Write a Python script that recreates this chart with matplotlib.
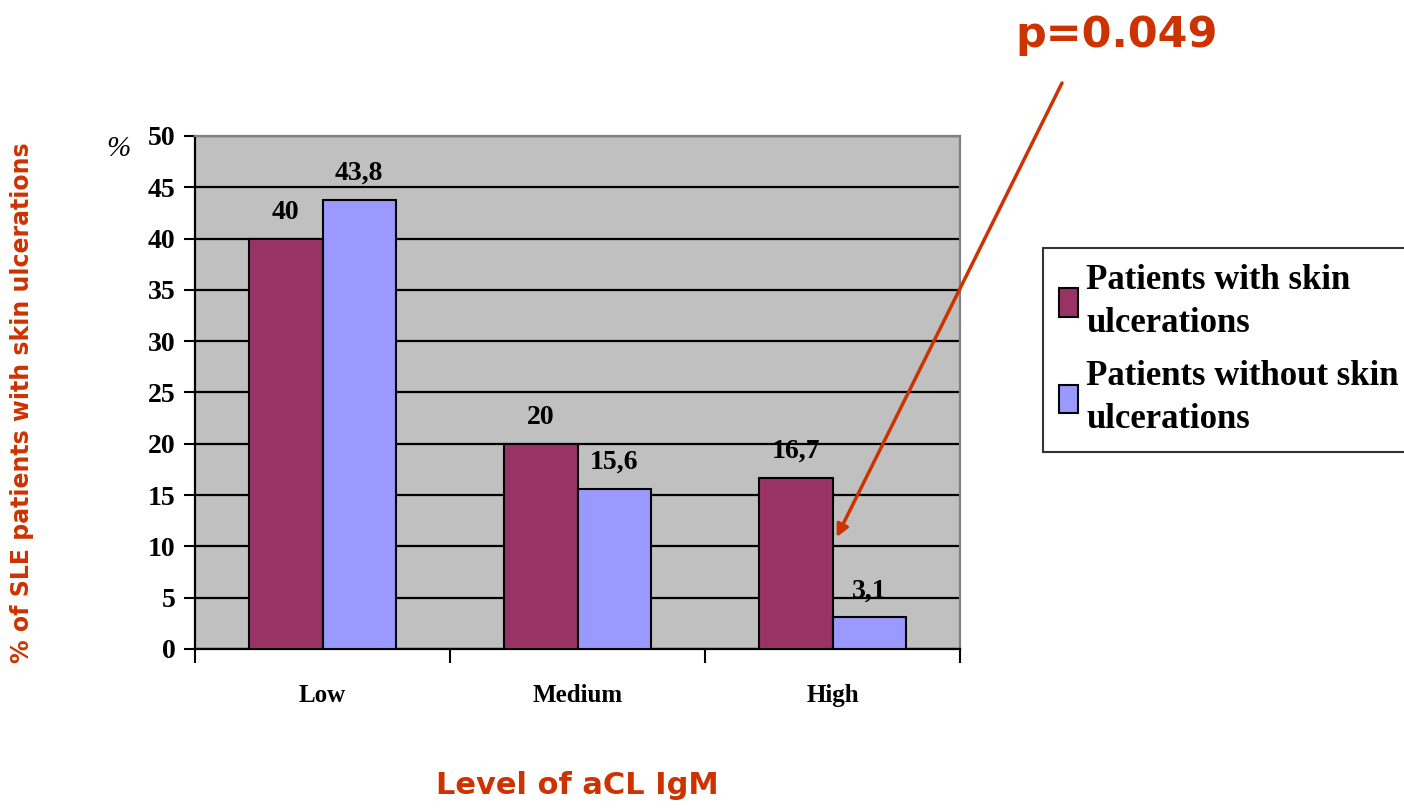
import numpy as np
import matplotlib.pyplot as plt

# data
levels = ['Low', 'Medium', 'High']
with_ulcer = [40, 20, 16.7]
without_ulcer = [43.8, 15.6, 3.1]
with_labels = ['40', '20', '16,7']
without_labels = ['43,8', '15,6', '3,1']
series_names = ['Patients with skin\nulcerations', 'Patients without skin\nulcerations']
y_ticks = [0, 5, 10, 15, 20, 25, 30, 35, 40, 45, 50]

maroon = '#993366'
periwinkle = '#9999FF'
orange = '#CC3300'
serif = 'Liberation Serif'

fig = plt.figure(figsize=(14.04, 8.09), dpi=100)
ax = fig.add_axes([0.1389, 0.1978, 0.5449, 0.6341])
ax.set_facecolor('#C0C0C0')

x = np.arange(len(levels))
w = 0.288
b1 = ax.bar(x - w / 2, with_ulcer, w, color=maroon, edgecolor='black', linewidth=1.5,
            label=series_names[0], zorder=3)
b2 = ax.bar(x + w / 2, without_ulcer, w, color=periwinkle, edgecolor='black', linewidth=1.5,
            label=series_names[1], zorder=3)

for bars, labels in [(b1, with_labels), (b2, without_labels)]:
    for rect, lab in zip(bars, labels):
        ax.annotate(lab, (rect.get_x() + rect.get_width() / 2, rect.get_height()),
                    xytext=(0, 10), textcoords='offset points', ha='center', va='bottom',
                    fontsize=20, fontweight='bold', family=serif)

ax.set_xlim(-0.5, 2.5)
ax.set_ylim(0, 50)
ax.set_yticks(y_ticks)
ax.yaxis.grid(True, color='black', linewidth=1.6, zorder=1)
ax.set_axisbelow(True)
ax.tick_params(axis='y', direction='out', length=8, width=1.5, labelsize=20, pad=6)
for t in ax.get_yticklabels():
    t.set_fontweight('bold')
    t.set_family(serif)

ax.set_xticks(x)
ax.set_xticklabels(levels, fontsize=18, fontweight='bold', family=serif)
ax.tick_params(axis='x', which='major', length=0, pad=25)
ax.set_xticks([-0.5, 0.5, 1.5, 2.5], minor=True)
ax.tick_params(axis='x', which='minor', direction='out', length=10, width=1.5)

for s in ['left', 'bottom']:
    ax.spines[s].set_color('black')
    ax.spines[s].set_linewidth(1.6)
for s in ['top', 'right']:
    ax.spines[s].set_color('#808080')
    ax.spines[s].set_linewidth(1.6)

ax.text(-0.10, 0.975, '%', transform=ax.transAxes, ha='center', va='center',
        fontsize=21, style='italic', family=serif)

fig.text(22 / 1404, 1 - 403 / 809, '% of SLE patients with skin ulcerations', color=orange,
         fontsize=17, fontweight='bold', rotation=90, ha='center', va='center')
fig.text(577 / 1404, 1 - 786 / 809, 'Level of aCL IgM', color=orange, fontsize=22,
         fontweight='bold', ha='center', va='center')

leg = ax.legend(loc='upper left', bbox_to_anchor=(1043 / 1404, 1 - 248 / 809),
                bbox_transform=fig.transFigure, prop={'family': serif, 'weight': 'bold', 'size': 25},
                frameon=True, fancybox=False, handlelength=0.55, handleheight=0.9,
                handletextpad=0.25, borderpad=0.45, labelspacing=0.6, borderaxespad=0)
leg.get_frame().set_edgecolor('black')
leg.get_frame().set_linewidth(1.5)
for t in leg.get_texts():
    t.set_linespacing(1.4)

fig.text(1117 / 1404, 1 - 35 / 809, 'p=0.049', color=orange, fontsize=31, fontweight='bold',
         ha='center', va='center')
ax.annotate('', xy=(2.016, 10.9), xycoords='data',
            xytext=(1062 / 1404, 1 - 83 / 809), textcoords='figure fraction',
            arrowprops=dict(arrowstyle='-|>', color=orange, lw=2.5, mutation_scale=18,
                            shrinkA=0, shrinkB=0), zorder=5)

fig.savefig('out.png', dpi=100)
